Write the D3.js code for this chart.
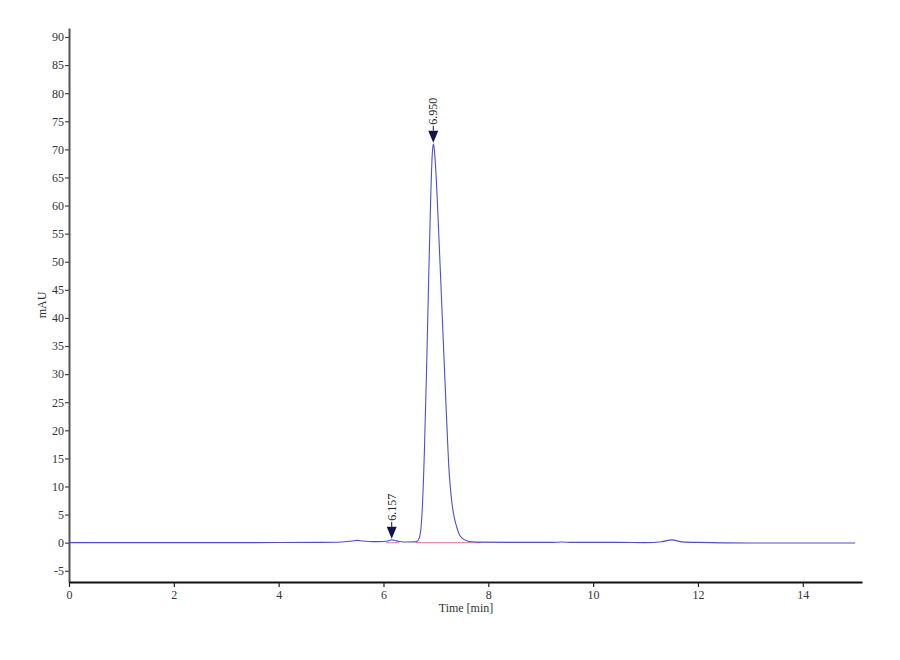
<!DOCTYPE html>
<head>
	<meta charset="utf-8">
	<script src="https://d3js.org/d3.v7.min.js"></script>
	<style>
		body { margin: 0; background: #fff; }
		text { font-family: "Liberation Serif", "DejaVu Serif", serif; }
	</style>
</head>
<body>
	<div id="chrom"></div>
	<script>

	// chromatogram trace, time in min, signal in mAU
	var times = [0, 1, 2, 3, 4, 4.8, 5.2, 5.4, 5.5, 5.6, 5.8, 6.0, 6.1, 6.157, 6.22, 6.3, 6.45, 6.6, 6.65, 6.7, 6.74,
		6.78, 6.82, 6.86, 6.9, 6.93, 6.95, 6.97, 7.0, 7.05, 7.1, 7.15, 7.2, 7.25, 7.3, 7.35, 7.4, 7.45, 7.5,
		7.6, 7.7, 7.8, 8.5, 9.2, 9.4, 9.6, 10.5, 11.0, 11.3, 11.5, 11.7, 12.0, 13.0, 14.0, 15.0];
	var signal = [0, 0, 0, 0, 0.02, 0.05, 0.12, 0.3, 0.4, 0.3, 0.18, 0.22, 0.35, 0.5, 0.4, 0.22, 0.12, 0.15, 0.3, 1.5, 6,
		16, 30, 46, 61, 69, 71, 70, 66, 56, 45, 34, 23, 13, 7.5, 4.5, 2.7, 1.4, 0.8,
		0.3, 0.15, 0.1, 0.05, 0.05, 0.12, 0.05, 0.05, 0.0, 0.15, 0.5, 0.15, 0.05, -0.05, -0.05, -0.05];

	// integration baselines (start, end) in min
	var baseStart = [6.05, 6.62];
	var baseEnd = [6.3, 7.85];

	// peak labels
	var peakTimes = [6.157, 6.950];
	var peakHeights = [0.5, 71];

	var xTicks = [0, 2, 4, 6, 8, 10, 12, 14];
	var yTicks = [-5, 0, 5, 10, 15, 20, 25, 30, 35, 40, 45, 50, 55, 60, 65, 70, 75, 80, 85, 90];

	var width = 900, height = 660;
	var padL = 69, padR = 862, padT = 28, padB = 582;

	var svg = d3.select("#chrom").append("svg")
		.attr("width", width)
		.attr("height", height);

	var x = d3.scaleLinear().domain([0, 15.13]).range([padL, padR]);
	var y = d3.scaleLinear().domain([-7, 91.6]).range([padB, padT]);

	// baselines
	svg.append("g").selectAll("line")
		.data(baseStart)
		.join("line")
			.attr("x1", d => x(d))
			.attr("x2", (d, i) => x(baseEnd[i]))
			.attr("y1", y(0))
			.attr("y2", y(0))
			.attr("stroke", "#e08fb0")
			.attr("stroke-width", 1.2);

	// trace
	var pts = times.map((t, i) => [t, signal[i]]);
	var line = d3.line()
		.x(d => x(d[0]))
		.y(d => y(d[1]))
		.curve(d3.curveMonotoneX);

	svg.append("path")
		.datum(pts)
		.attr("d", line)
		.attr("fill", "none")
		.attr("stroke", "#4f4fc4")
		.attr("stroke-width", 1.1);

	// y axis
	var yAxis = svg.append("g")
		.attr("transform", "translate(" + padL + ",0)")
		.call(d3.axisLeft(y).tickValues(yTicks).tickFormat(d => String(d))
			.tickSize(4).tickPadding(1).tickSizeOuter(0));
	yAxis.select(".domain").attr("stroke", "#555").attr("stroke-width", 2);
	yAxis.selectAll(".tick line").attr("stroke", "#444").attr("stroke-width", 1.2);
	yAxis.selectAll(".tick text").attr("font-size", 12).attr("fill", "#333")
		.attr("font-family", "Liberation Serif");

	// x axis
	var xAxis = svg.append("g")
		.attr("transform", "translate(0," + padB + ")")
		.call(d3.axisBottom(x).tickValues(xTicks).tickFormat(d => String(d))
			.tickSize(5).tickPadding(3).tickSizeOuter(0));
	xAxis.select(".domain").attr("stroke", "#111").attr("stroke-width", 2);
	xAxis.selectAll(".tick line").attr("stroke", "#222").attr("stroke-width", 1.2);
	xAxis.selectAll(".tick text").attr("font-size", 12).attr("fill", "#333")
		.attr("font-family", "Liberation Serif");

	// axis titles
	svg.append("text")
		.attr("transform", "translate(46," + 305 + ") rotate(-90)")
		.attr("text-anchor", "middle")
		.attr("font-size", 12)
		.attr("fill", "#333")
		.text("mAU");

	svg.append("text")
		.attr("x", 466)
		.attr("y", 612)
		.attr("text-anchor", "middle")
		.attr("font-size", 12)
		.attr("fill", "#333")
		.text("Time [min]");

	// peak markers
	var marks = svg.append("g").selectAll("g")
		.data(peakTimes)
		.join("g")
			.attr("transform", (d, i) => "translate(" + x(d) + "," + (y(peakHeights[i]) - 1) + ")");

	marks.append("path")
		.attr("d", "M-5,-12 L5,-12 L0,0 Z")
		.attr("fill", "#14144a");
	marks.append("line")
		.attr("y1", -12).attr("y2", -17)
		.attr("stroke", "#14144a");
	marks.append("text")
		.attr("transform", "translate(4,-18) rotate(-90)")
		.attr("font-size", 12)
		.attr("fill", "#222")
		.text(d => d.toFixed(3));

	</script>
</body>
</html>
